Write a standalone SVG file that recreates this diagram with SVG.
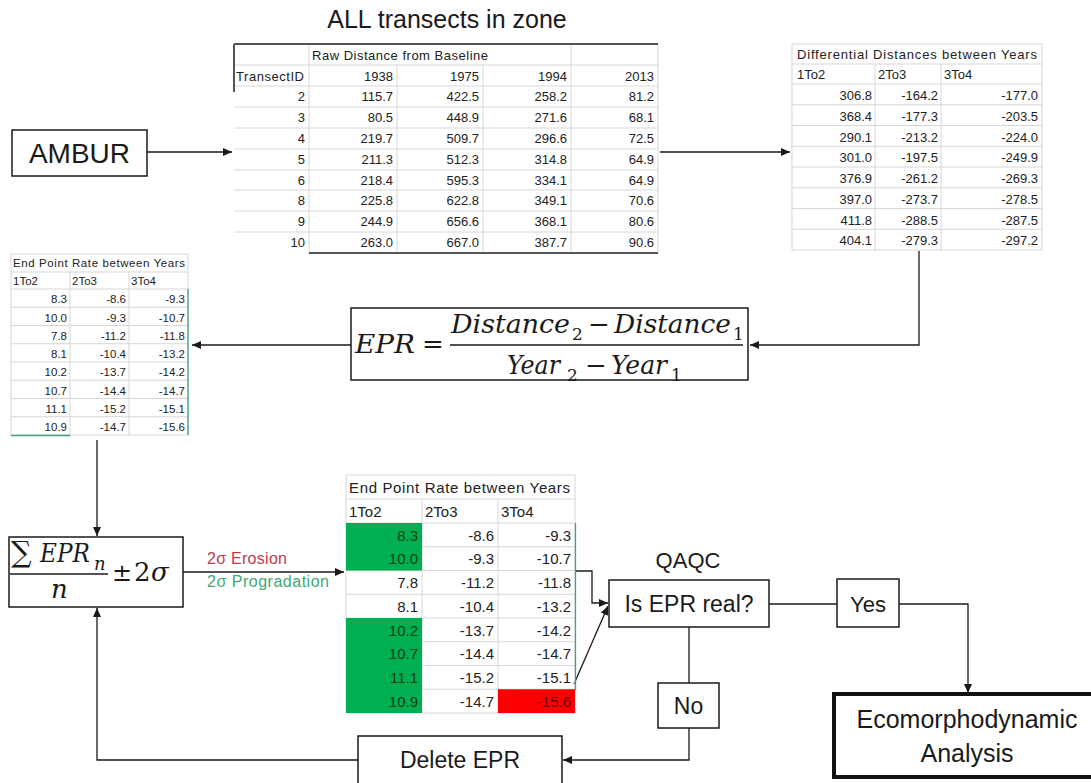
<svg xmlns="http://www.w3.org/2000/svg" width="1091" height="783" viewBox="0 0 1091 783">
<defs>
<marker id="arr" markerUnits="userSpaceOnUse" markerWidth="10" markerHeight="8" refX="9" refY="4" orient="auto">
<path d="M0,0 L9,4 L0,8 z" fill="#1a1a1a"/>
</marker>
<style>
.tb{font-family:"Liberation Sans",Arial,sans-serif;fill:#222}
.s13{font-size:13px}
.s115{font-size:11.5px}
.s15{font-size:15px}
.r{text-anchor:end}
.grid{stroke:#d6d6d6;stroke-width:1;fill:none}
.dark{stroke:#555;stroke-width:2;fill:none}
.teal{stroke:#3fa37e;stroke-width:1.3;fill:none}
.box{fill:#fff;stroke:#1a1a1a;stroke-width:1.5}
.conn{fill:none;stroke:#1a1a1a;stroke-width:1.3}
.lbl{font-family:"Liberation Sans",Arial,sans-serif;fill:#1a1a1a;text-anchor:middle}
.math{font-family:"DejaVu Serif","Liberation Serif",serif;font-style:italic;fill:#1a1a1a}
.mup{font-family:"DejaVu Serif","Liberation Serif",serif;fill:#1a1a1a}
.gtxt{fill:#123d1e}
.rtxt{fill:#6a0000}
</style>
</defs>
<rect width="1091" height="783" fill="#fff"/>

<text class="lbl" x="447" y="28" font-size="25">ALL transects in zone</text>

<g id="connectors">
<line class="conn" x1="147" y1="152" x2="232" y2="152" marker-end="url(#arr)"/>
<line class="conn" x1="660" y1="152" x2="790" y2="152" marker-end="url(#arr)"/>
<polyline class="conn" points="919,251 919,345 750,345" marker-end="url(#arr)"/>
<line class="conn" x1="351" y1="345" x2="192" y2="345" marker-end="url(#arr)"/>
<line class="conn" x1="97" y1="440" x2="97" y2="536" marker-end="url(#arr)"/>
<line class="conn" x1="183" y1="572" x2="344" y2="572" marker-end="url(#arr)"/>
<polyline class="conn" points="576,571 592,571 592,603 608,603" marker-end="url(#arr)"/>
<line class="conn" x1="574" y1="684" x2="608" y2="606" marker-end="url(#arr)"/>
<line class="conn" x1="769" y1="604" x2="837" y2="604"/>
<polyline class="conn" points="899,604 968,604 968,693" marker-end="url(#arr)"/>
<line class="conn" x1="689" y1="627" x2="689" y2="683"/>
<polyline class="conn" points="689,728 689,760 563,760" marker-end="url(#arr)"/>
<polyline class="conn" points="358,760 97,760 97,608" marker-end="url(#arr)"/>
</g>

<g id="ambur">
<rect class="box" x="12" y="130" width="135" height="46"/>
<text class="lbl" x="79.5" y="163" font-size="28">AMBUR</text>
</g>

<g id="raw-table">
<g class="grid">
<line x1="234" y1="65" x2="658" y2="65"/>
<line x1="234" y1="86" x2="658" y2="86"/>
<line x1="234" y1="107" x2="658" y2="107"/>
<line x1="234" y1="128" x2="658" y2="128"/>
<line x1="234" y1="149" x2="658" y2="149"/>
<line x1="234" y1="170" x2="658" y2="170"/>
<line x1="234" y1="190" x2="658" y2="190"/>
<line x1="234" y1="211" x2="658" y2="211"/>
<line x1="234" y1="232" x2="658" y2="232"/>
<line x1="309" y1="44" x2="309" y2="253"/>
<line x1="397" y1="65" x2="397" y2="253"/>
<line x1="483" y1="65" x2="483" y2="253"/>
<line x1="571" y1="44" x2="571" y2="253"/>
<line x1="658" y1="44" x2="658" y2="253"/>
</g>
<line class="dark" x1="234" y1="44" x2="658" y2="44"/>
<line class="dark" x1="234" y1="44" x2="234" y2="92"/>
<line class="dark" x1="309" y1="253" x2="658" y2="253"/>
<g class="tb s13">
<text x="312" y="60" textLength="176">Raw Distance from Baseline</text>
<text x="236" y="81" textLength="68">TransectID</text>
</g>
<g class="tb s13 r">
<text x="393" y="81">1938</text><text x="479" y="81">1975</text><text x="567" y="81">1994</text><text x="654" y="81">2013</text>
<text x="305" y="101">2</text><text x="393" y="101">115.7</text><text x="479" y="101">422.5</text><text x="567" y="101">258.2</text><text x="654" y="101">81.2</text>
<text x="305" y="122">3</text><text x="393" y="122">80.5</text><text x="479" y="122">448.9</text><text x="567" y="122">271.6</text><text x="654" y="122">68.1</text>
<text x="305" y="143">4</text><text x="393" y="143">219.7</text><text x="479" y="143">509.7</text><text x="567" y="143">296.6</text><text x="654" y="143">72.5</text>
<text x="305" y="164">5</text><text x="393" y="164">211.3</text><text x="479" y="164">512.3</text><text x="567" y="164">314.8</text><text x="654" y="164">64.9</text>
<text x="305" y="185">6</text><text x="393" y="185">218.4</text><text x="479" y="185">595.3</text><text x="567" y="185">334.1</text><text x="654" y="185">64.9</text>
<text x="305" y="205">8</text><text x="393" y="205">225.8</text><text x="479" y="205">622.8</text><text x="567" y="205">349.1</text><text x="654" y="205">70.6</text>
<text x="305" y="226">9</text><text x="393" y="226">244.9</text><text x="479" y="226">656.6</text><text x="567" y="226">368.1</text><text x="654" y="226">80.6</text>
<text x="305" y="247">10</text><text x="393" y="247">263.0</text><text x="479" y="247">667.0</text><text x="567" y="247">387.7</text><text x="654" y="247">90.6</text>
</g>
</g>

<g id="diff-table">
<g class="grid">
<rect x="792" y="44" width="250" height="206"/>
<line x1="792" y1="64" x2="1042" y2="64"/>
<line x1="792" y1="84" x2="1042" y2="84"/>
<line x1="792" y1="104.75" x2="1042" y2="104.75"/>
<line x1="792" y1="125.5" x2="1042" y2="125.5"/>
<line x1="792" y1="146.25" x2="1042" y2="146.25"/>
<line x1="792" y1="167" x2="1042" y2="167"/>
<line x1="792" y1="187.75" x2="1042" y2="187.75"/>
<line x1="792" y1="208.5" x2="1042" y2="208.5"/>
<line x1="792" y1="229.25" x2="1042" y2="229.25"/>
<line x1="875" y1="64" x2="875" y2="250"/>
<line x1="941" y1="64" x2="941" y2="250"/>
</g>
<g class="tb s13">
<text x="797" y="59" textLength="240">Differential Distances between Years</text>
<text x="797" y="79">1To2</text><text x="878" y="79">2To3</text><text x="944" y="79">3To4</text>
</g>
<g class="tb s13 r">
<text x="872" y="100">306.8</text><text x="938" y="100">-164.2</text><text x="1038" y="100">-177.0</text>
<text x="872" y="121">368.4</text><text x="938" y="121">-177.3</text><text x="1038" y="121">-203.5</text>
<text x="872" y="141.5">290.1</text><text x="938" y="141.5">-213.2</text><text x="1038" y="141.5">-224.0</text>
<text x="872" y="162">301.0</text><text x="938" y="162">-197.5</text><text x="1038" y="162">-249.9</text>
<text x="872" y="183">376.9</text><text x="938" y="183">-261.2</text><text x="1038" y="183">-269.3</text>
<text x="872" y="204">397.0</text><text x="938" y="204">-273.7</text><text x="1038" y="204">-278.5</text>
<text x="872" y="224.5">411.8</text><text x="938" y="224.5">-288.5</text><text x="1038" y="224.5">-287.5</text>
<text x="872" y="245">404.1</text><text x="938" y="245">-279.3</text><text x="1038" y="245">-297.2</text>
</g>
</g>

<g id="epr-formula">
<rect class="box" x="351" y="308" width="397" height="72"/>
<text class="math" x="355" y="353" font-size="26" textLength="60" lengthAdjust="spacingAndGlyphs">EPR</text>
<text class="mup" x="422" y="353" font-size="26">=</text>
<text class="math" x="451" y="333" font-size="26" textLength="119" lengthAdjust="spacingAndGlyphs">Distance</text>
<text class="mup" x="572" y="340" font-size="17">2</text>
<text class="mup" x="588" y="333" font-size="26">−</text>
<text class="math" x="614" y="333" font-size="26" textLength="117" lengthAdjust="spacingAndGlyphs">Distance</text>
<text class="mup" x="733" y="340" font-size="17">1</text>
<line x1="450" y1="345" x2="743" y2="345" stroke="#1a1a1a" stroke-width="1.5"/>
<text class="math" x="507" y="374" font-size="26" textLength="53" lengthAdjust="spacingAndGlyphs">Year</text>
<text class="mup" x="567" y="381" font-size="17">2</text>
<text class="mup" x="585" y="374" font-size="26">−</text>
<text class="math" x="611" y="374" font-size="26" textLength="56" lengthAdjust="spacingAndGlyphs">Year</text>
<text class="mup" x="671" y="381" font-size="17">1</text>
</g>

<g id="epr-table-left">
<g class="grid">
<rect x="11" y="254" width="177" height="181"/>
<line x1="11" y1="272" x2="188" y2="272"/>
<line x1="11" y1="289" x2="188" y2="289"/>
<line x1="11" y1="307.25" x2="188" y2="307.25"/>
<line x1="11" y1="325.5" x2="188" y2="325.5"/>
<line x1="11" y1="343.75" x2="188" y2="343.75"/>
<line x1="11" y1="362" x2="188" y2="362"/>
<line x1="11" y1="380.25" x2="188" y2="380.25"/>
<line x1="11" y1="398.5" x2="188" y2="398.5"/>
<line x1="11" y1="416.75" x2="188" y2="416.75"/>
<line x1="70" y1="272" x2="70" y2="435"/>
<line x1="129" y1="272" x2="129" y2="435"/>
</g>
<line class="teal" x1="188" y1="289" x2="188" y2="435"/>
<line class="teal" x1="11" y1="435.5" x2="70" y2="435.5"/>
<g class="tb s115">
<text x="13" y="267" textLength="172">End Point Rate between Years</text>
<text x="13" y="285">1To2</text><text x="72" y="285">2To3</text><text x="131" y="285">3To4</text>
</g>
<g class="tb s115 r">
<text x="67" y="303">8.3</text><text x="126" y="303">-8.6</text><text x="185" y="303">-9.3</text>
<text x="67" y="321.5">10.0</text><text x="126" y="321.5">-9.3</text><text x="185" y="321.5">-10.7</text>
<text x="67" y="339.5">7.8</text><text x="126" y="339.5">-11.2</text><text x="185" y="339.5">-11.8</text>
<text x="67" y="358">8.1</text><text x="126" y="358">-10.4</text><text x="185" y="358">-13.2</text>
<text x="67" y="376">10.2</text><text x="126" y="376">-13.7</text><text x="185" y="376">-14.2</text>
<text x="67" y="394.5">10.7</text><text x="126" y="394.5">-14.4</text><text x="185" y="394.5">-14.7</text>
<text x="67" y="412.5">11.1</text><text x="126" y="412.5">-15.2</text><text x="185" y="412.5">-15.1</text>
<text x="67" y="431">10.9</text><text x="126" y="431">-14.7</text><text x="185" y="431">-15.6</text>
</g>
</g>

<g id="sum-formula">
<rect class="box" x="9" y="537" width="174" height="70"/>
<text class="mup" x="11" y="562" font-size="29">∑</text>
<text class="math" x="40" y="562" font-size="26" textLength="50" lengthAdjust="spacingAndGlyphs">EPR</text>
<text class="math" x="94" y="570" font-size="18">n</text>
<line x1="10" y1="574" x2="108" y2="574" stroke="#1a1a1a" stroke-width="1.5"/>
<text class="math" x="51" y="598" font-size="26">n</text>
<text class="mup" x="112" y="581" font-size="24">±</text>
<text class="mup" x="134" y="581" font-size="26">2</text>
<text class="math" x="151" y="581" font-size="26">σ</text>
</g>

<g id="sigma-labels">
<text x="207" y="564" font-family="Liberation Sans,Arial,sans-serif" font-size="16" fill="#c0394a" textLength="80">2σ Erosion</text>
<text x="207" y="587" font-family="Liberation Sans,Arial,sans-serif" font-size="16" fill="#3fa872" textLength="122">2σ Progradation</text>
</g>

<g id="epr-table-mid">
<g class="grid">
<rect x="346" y="475" width="229" height="238"/>
<line x1="346" y1="499" x2="575" y2="499"/>
<line x1="346" y1="523" x2="575" y2="523"/>
<line x1="346" y1="546.75" x2="575" y2="546.75"/>
<line x1="346" y1="570.5" x2="575" y2="570.5"/>
<line x1="346" y1="594.25" x2="575" y2="594.25"/>
<line x1="346" y1="618" x2="575" y2="618"/>
<line x1="346" y1="641.75" x2="575" y2="641.75"/>
<line x1="346" y1="665.5" x2="575" y2="665.5"/>
<line x1="346" y1="689.25" x2="575" y2="689.25"/>
<line x1="422" y1="499" x2="422" y2="713"/>
<line x1="498" y1="499" x2="498" y2="713"/>
</g>
<rect x="346" y="523" width="76" height="47.5" fill="#00b050"/>
<rect x="346" y="618" width="76" height="95" fill="#00b050"/>
<rect x="498" y="689.25" width="77" height="23.75" fill="#ff0000"/>
<line class="teal" x1="575.5" y1="523" x2="575.5" y2="690"/>
<g class="tb s15">
<text x="349" y="493" textLength="221">End Point Rate between Years</text>
<text x="349" y="517">1To2</text><text x="425" y="517">2To3</text><text x="501" y="517">3To4</text>
</g>
<g class="tb s15 r">
<text x="418" y="540.5" class="gtxt">8.3</text><text x="494" y="540.5">-8.6</text><text x="571" y="540.5">-9.3</text>
<text x="418" y="564" class="gtxt">10.0</text><text x="494" y="564">-9.3</text><text x="571" y="564">-10.7</text>
<text x="418" y="588">7.8</text><text x="494" y="588">-11.2</text><text x="571" y="588">-11.8</text>
<text x="418" y="611.5">8.1</text><text x="494" y="611.5">-10.4</text><text x="571" y="611.5">-13.2</text>
<text x="418" y="635.5" class="gtxt">10.2</text><text x="494" y="635.5">-13.7</text><text x="571" y="635.5">-14.2</text>
<text x="418" y="659" class="gtxt">10.7</text><text x="494" y="659">-14.4</text><text x="571" y="659">-14.7</text>
<text x="418" y="683" class="gtxt">11.1</text><text x="494" y="683">-15.2</text><text x="571" y="683">-15.1</text>
<text x="418" y="707" class="gtxt">10.9</text><text x="494" y="707">-14.7</text><text x="571" y="707" class="rtxt">-15.6</text>
</g>
</g>

<g id="qaqc">
<text class="lbl" x="688" y="568" font-size="22">QAQC</text>
<rect class="box" x="609" y="580" width="160" height="47"/>
<text class="lbl" x="689" y="612" font-size="23">Is EPR real?</text>
</g>

<g id="yes">
<rect class="box" x="837" y="579" width="62" height="48"/>
<text class="lbl" x="868" y="612" font-size="22">Yes</text>
</g>

<g id="no">
<rect class="box" x="658" y="683" width="61" height="45"/>
<text class="lbl" x="688.5" y="714" font-size="23">No</text>
</g>

<g id="delete-epr">
<rect class="box" x="358" y="736" width="204" height="60"/>
<text class="lbl" x="460" y="768" font-size="23">Delete EPR</text>
</g>

<g id="ecomorphodynamic">
<rect x="834" y="694" width="270" height="83" fill="#fff" stroke="#111" stroke-width="4"/>
<text class="lbl" x="967" y="728" font-size="25">Ecomorphodynamic</text>
<text class="lbl" x="967" y="762" font-size="25">Analysis</text>
</g>
</svg>
